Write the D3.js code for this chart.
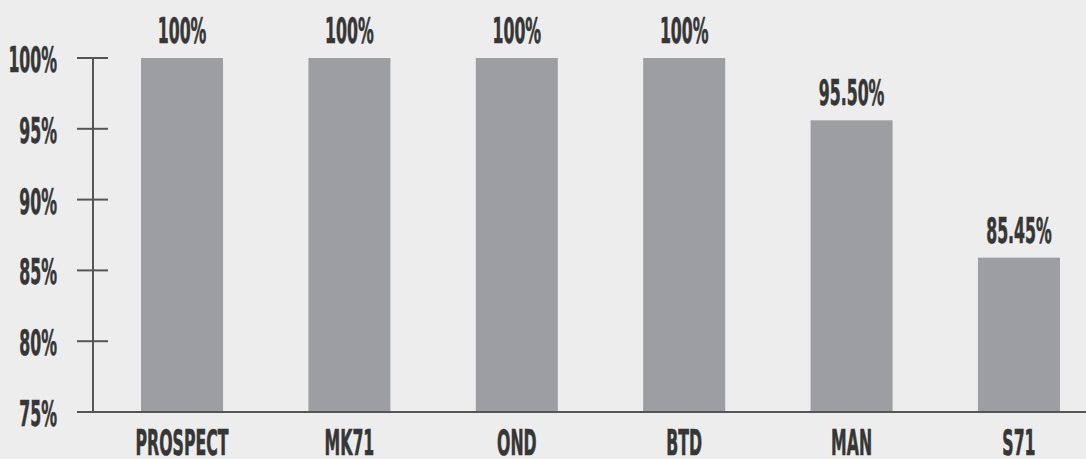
<!DOCTYPE html>
<html>
<head>
<meta charset="utf-8">
<script src="https://cdn.jsdelivr.net/npm/d3@7"></script>
<style>
  html, body { margin: 0; padding: 0; background: #ededed; }
  svg { display: block; }
</style>
</head>
<body>
<div id="chart-area"></div>
<script>
// chart data
var categories = ["PROSPECT", "MK71", "OND", "BTD", "MAN", "S71"];
var values = [100, 100, 100, 100, 95.6, 85.9];   // bar heights
var valueLabels = ["100%", "100%", "100%", "100%", "95.50%", "85.45%"];
var yTicks = [75, 80, 85, 90, 95, 100];

var width = 1086, height = 459;
var textColor = "#363636";
var fontFamily = "'DejaVu Sans Condensed', 'DejaVu Sans', sans-serif";
var squash = 0.5;   // narrow the glyphs to look like a condensed face

var svg = d3.select("#chart-area")
    .append("svg")
        .attr("width", width)
        .attr("height", height);

svg.append("rect")
    .attr("width", width)
    .attr("height", height)
    .attr("fill", "#ededed");

// Scales
var y = d3.scaleLinear()
    .domain([75, 100])
    .range([412, 58]);

var x = d3.scaleBand()
    .domain(categories)
    .range([93, 1108])
    .paddingInner(0.51)
    .paddingOuter(0.287);

// Bars
svg.selectAll("rect.bar")
    .data(values)
    .enter()
    .append("rect")
        .attr("class", "bar")
        .attr("x", function(d, i) { return x(categories[i]); })
        .attr("y", function(d) { return y(d); })
        .attr("width", x.bandwidth())
        .attr("height", function(d) { return y(75) - y(d); })
        .attr("fill", "#9d9ea2");

// helper for squashed text
function label(txt, px, py, anchor) {
    return svg.append("text")
        .attr("transform", "translate(" + px + "," + py + ") scale(" + squash + ",1)")
        .attr("text-anchor", anchor)
        .attr("font-family", fontFamily)
        .attr("font-weight", "bold")
        .attr("font-size", "35px")
        .attr("fill", textColor)
        .attr("stroke", textColor)
        .attr("stroke-width", 0.6)
        .text(txt);
}

// Value labels
values.forEach(function(v, i) {
    label(valueLabels[i], x(categories[i]) + x.bandwidth() / 2, y(v) - 15, "middle");
});

// Category labels
categories.forEach(function(c) {
    label(c, x(c) + x.bandwidth() / 2, 455, "middle");
});

// Y axis
var axisColor = "#555555";
svg.append("line")
    .attr("x1", 93).attr("x2", 93)
    .attr("y1", y(100)).attr("y2", y(75))
    .attr("stroke", axisColor)
    .attr("stroke-width", 2);

yTicks.forEach(function(t) {
    svg.append("line")
        .attr("x1", 77)
        .attr("x2", t === 75 ? width : 108)
        .attr("y1", y(t)).attr("y2", y(t))
        .attr("stroke", axisColor)
        .attr("stroke-width", 2);
    label(t + "%", 57, y(t) + 14, "end");
});
</script>
</body>
</html>
